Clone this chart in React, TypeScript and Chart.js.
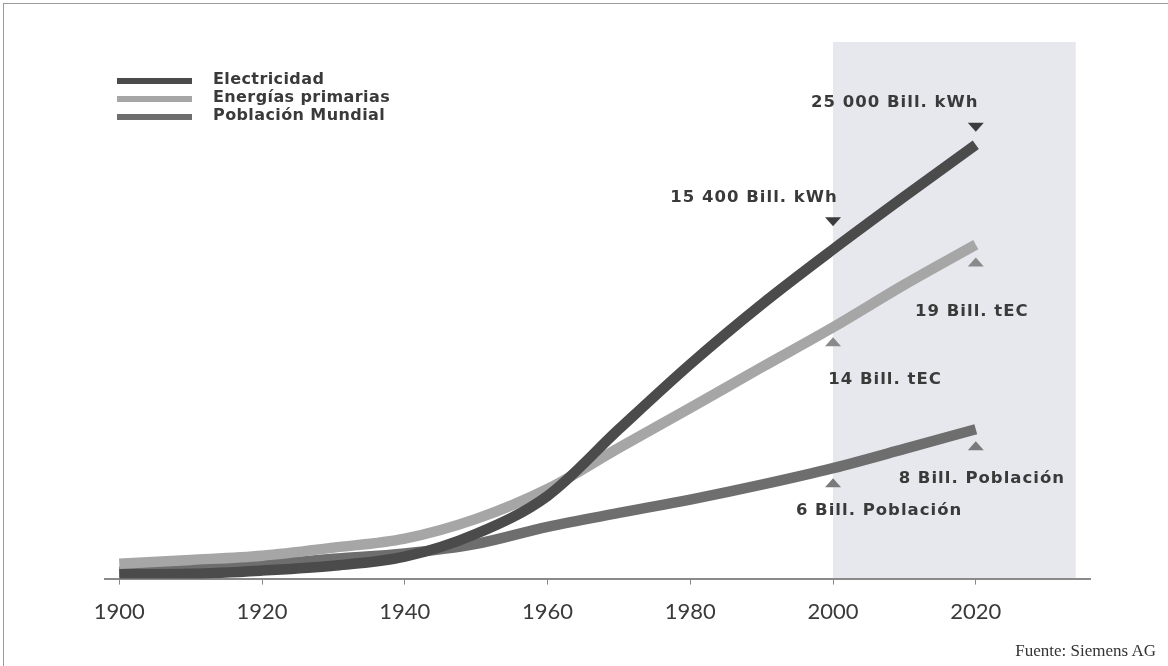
import React, { useEffect, useRef } from "react";
import { Chart, registerables } from "chart.js";

Chart.register(...registerables);

// ---- data ----
const years = [1900, 1910, 1920, 1930, 1940, 1950, 1960, 1970, 1980, 1990, 2000, 2010, 2020];
const electricidad = [0.8, 0.9, 1.5, 2.4, 4.1, 8.4, 15.5, 28.0, 40.2, 51.4, 61.7, 71.6, 81.3];
const energiasPrimarias = [2.8, 3.5, 4.3, 5.8, 7.5, 11.2, 16.8, 24.5, 32.0, 39.6, 47.1, 55.1, 62.6];
const poblacionMundial = [1.3, 1.9, 2.6, 3.7, 4.7, 6.5, 9.7, 12.3, 14.8, 17.6, 20.7, 24.3, 28.0];
const seriesNames = ["Electricidad", "Energías primarias", "Población Mundial"];
const xTickValues = [1900, 1920, 1940, 1960, 1980, 2000, 2020];
const forecastStart = 2000;
const forecastEnd = 2034;

const annotationTexts = [
  "25 000 Bill. kWh",
  "15 400 Bill. kWh",
  "19 Bill. tEC",
  "14 Bill. tEC",
  "8 Bill. Población",
  "6 Bill. Población",
];
const annotationYears = [2020, 2000, 2020, 2000, 2020, 2000];
const annotationSeries = [0, 0, 1, 1, 2, 2];

// ---- styles / layout ----
const seriesColors = ["#4b4b4b", "#a6a6a6", "#6e6e6e"];
const markerColors = ["#3c3c3c", "#8a8a8a", "#7a7a7a"];
// triangle direction (-1 = pointing down placed above line, 1 = pointing up placed below), offsets in px
const annotationLayout = [
  { dir: -1, triDy: -18, textDx: -81, textDy: -42 },
  { dir: -1, triDy: -28, textDx: -79, textDy: -52 },
  { dir: 1, triDy: 18, textDx: -4, textDy: 67 },
  { dir: 1, triDy: 15, textDx: 52, textDy: 52 },
  { dir: 1, triDy: 17, textDx: 6, textDy: 50 },
  { dir: 1, triDy: 15, textDx: 46, textDy: 43 },
];

const allSeries = [electricidad, energiasPrimarias, poblacionMundial];

const shadePlugin = {
  id: "forecastShade",
  beforeDraw(chart: any) {
    const { ctx, chartArea, scales } = chart;
    const x = scales.x;
    const x0 = x.getPixelForValue(forecastStart);
    const x1 = x.getPixelForValue(forecastEnd);
    ctx.save();
    ctx.fillStyle = "#e6e8ee";
    ctx.fillRect(x0, chartArea.top - 3, x1 - x0, chartArea.bottom - chartArea.top + 3);
    ctx.restore();
  },
};

const legendPlugin = {
  id: "customLegend",
  afterDraw(chart: any) {
    const { ctx } = chart;
    ctx.save();
    chart.data.datasets.forEach((ds: any, i: number) => {
      const y = 81 + i * 18;
      ctx.strokeStyle = ds.borderColor;
      ctx.lineWidth = 6;
      ctx.lineCap = "butt";
      ctx.beginPath();
      ctx.moveTo(117, y);
      ctx.lineTo(192, y);
      ctx.stroke();
      ctx.fillStyle = "#3a3a3a";
      ctx.font = "bold 16px 'DejaVu Sans'";
      (ctx as any).letterSpacing = "0.4px";
      ctx.textBaseline = "middle";
      ctx.textAlign = "left";
      ctx.fillText(ds.label, 213, y - 1);
    });
    ctx.restore();
  },
};

const annotationPlugin = {
  id: "annotations",
  afterDatasetsDraw(chart: any) {
    const { ctx, scales } = chart;
    ctx.save();
    annotationTexts.forEach((text, i) => {
      const s = annotationSeries[i];
      const yr = annotationYears[i];
      const val = allSeries[s][years.indexOf(yr)];
      const px = scales.x.getPixelForValue(yr);
      const py = scales.y.getPixelForValue(val);
      const lay = annotationLayout[i];
      const ty = py + lay.triDy;
      ctx.fillStyle = markerColors[s];
      ctx.beginPath();
      if (lay.dir < 0) {
        ctx.moveTo(px - 8, ty - 4);
        ctx.lineTo(px + 8, ty - 4);
        ctx.lineTo(px, ty + 5);
      } else {
        ctx.moveTo(px - 8, ty + 4);
        ctx.lineTo(px + 8, ty + 4);
        ctx.lineTo(px, ty - 5);
      }
      ctx.closePath();
      ctx.fill();
      ctx.fillStyle = "#3a3a3a";
      ctx.font = "bold 16.5px 'DejaVu Sans'";
      (ctx as any).letterSpacing = "1px";
      ctx.textAlign = "center";
      ctx.textBaseline = "middle";
      ctx.fillText(text, px + lay.textDx, py + lay.textDy);
    });
    ctx.restore();
  },
};

export default function App() {
  const canvasRef = useRef<HTMLCanvasElement>(null);

  useEffect(() => {
    if (!canvasRef.current) return;
    const chart = new Chart(canvasRef.current, {
      type: "line",
      data: {
        labels: years,
        datasets: [electricidad, energiasPrimarias, poblacionMundial].map((arr, i) => ({
          label: seriesNames[i],
          data: arr.map((v, j) => ({ x: years[j], y: v })),
          borderColor: seriesColors[i],
          backgroundColor: seriesColors[i],
          borderWidth: 10.5,
          borderCapStyle: "butt",
          pointRadius: 0,
          cubicInterpolationMode: "monotone",
          fill: false,
        })),
      },
      options: {
        responsive: false,
        animation: false,
        devicePixelRatio: 1,
        layout: { padding: { left: 105, right: 78, top: 45, bottom: 27 } },
        plugins: {
          legend: { display: false },
          tooltip: { enabled: false },
        },
        scales: {
          x: {
            type: "linear",
            min: 1898,
            max: 2036,
            afterBuildTicks: (scale: any) => {
              scale.ticks = xTickValues.map((v) => ({ value: v }));
            },
            ticks: {
              font: { family: "Lato", size: 22 },
              color: "#3a3a3a",
              padding: 14,
              callback: (v: any) => String(v),
            },
            grid: { drawOnChartArea: false, tickLength: 6, color: "#888888", lineWidth: 1 },
            border: { color: "#8a8a8a", width: 2 },
          },
          y: { display: false, min: 0, max: 100 },
        },
      },
      plugins: [shadePlugin, legendPlugin, annotationPlugin],
    } as any);
    return () => chart.destroy();
  }, []);

  return (
    <div style={{ position: "absolute", left: 0, top: 0, width: 1168, height: 666, background: "#ffffff", overflow: "hidden" }}>
      <canvas ref={canvasRef} width={1168} height={666} style={{ display: "block" }} />
      <div
        style={{
          position: "absolute",
          left: 3,
          top: 3,
          width: 1165,
          height: 663,
          borderTop: "1px solid #9a9a9a",
          borderLeft: "1px solid #9a9a9a",
          boxSizing: "border-box",
          pointerEvents: "none",
        }}
      />
      <div
        style={{
          position: "absolute",
          right: 12,
          top: 641,
          fontFamily: "'Liberation Serif', serif",
          fontSize: 17,
          color: "#333333",
          whiteSpace: "nowrap",
        }}
      >
        Fuente: Siemens AG
      </div>
    </div>
  );
}
